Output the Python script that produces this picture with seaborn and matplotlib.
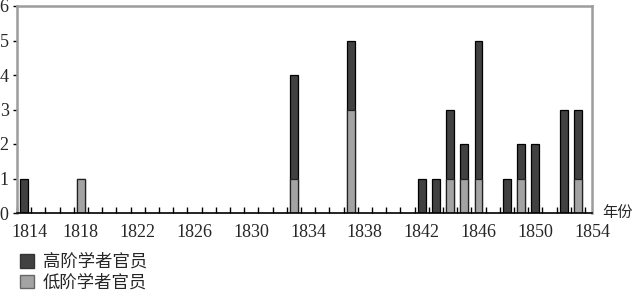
import matplotlib
matplotlib.use("Agg")
import matplotlib.pyplot as plt
import matplotlib.transforms as mtransforms
import seaborn as sns
import pandas as pd
from matplotlib.patches import Patch
from matplotlib.ticker import MultipleLocator

# ---- data ----
years = [1814, 1818, 1833, 1837, 1842, 1843, 1844, 1845, 1846, 1848, 1849, 1850, 1852, 1853]
high = [1, 0, 3, 2, 1, 1, 2, 1, 4, 1, 1, 2, 3, 2]   # 高阶学者官员 (dark, top)
low = [0, 1, 1, 3, 0, 0, 1, 1, 1, 0, 1, 0, 0, 1]    # 低阶学者官员 (light, bottom)
series_names = ["高阶学者官员", "低阶学者官员"]
x_tick_years = [1814, 1818, 1822, 1826, 1830, 1834, 1838, 1842, 1846, 1850, 1854]
y_ticks = [0, 1, 2, 3, 4, 5, 6]
x_axis_label = "年份"

dark = "#414141"
light = "#a3a3a3"
SERIF = ['Liberation Serif', 'DejaVu Serif']
CJK = ['Noto Sans CJK SC', 'DejaVu Sans']

sns.set_theme(style="white")
plt.rcParams['font.family'] = ['Liberation Serif', 'Noto Sans CJK SC', 'DejaVu Sans']

df = pd.DataFrame({"year": years, "high": high, "low": low})
df["total"] = df["high"] + df["low"]
df_low = df[df["low"] > 0]

fig = plt.figure(figsize=(6.35, 2.91), dpi=100)
W, H = 635, 291
ax = fig.add_axes([17 / W, 1 - 213 / H, (592 - 17) / W, (213 - 6) / H])

# stacked bars: total drawn dark, lower part overlaid in light grey
sns.barplot(data=df, x="year", y="total", native_scale=True, orient="x",
            width=0.55, color=dark, saturation=1, edgecolor="black",
            linewidth=0.9, errorbar=None, ax=ax)
sns.barplot(data=df_low, x="year", y="low", native_scale=True, orient="x",
            width=0.55, color=light, saturation=1, edgecolor="#222222",
            linewidth=0.9, errorbar=None, ax=ax)

ax.set_xlim(1813.5, 1854.0)
ax.set_ylim(0, 6)
ax.set_xlabel("")
ax.set_ylabel("")

ax.set_xticks(x_tick_years)
ax.set_xticklabels([str(y) for y in x_tick_years], fontfamily=SERIF, fontsize=13)
ax.xaxis.set_minor_locator(MultipleLocator(1, offset=0.5))
ax.tick_params(axis="x", which="major", length=0, pad=8, bottom=True)
ax.tick_params(axis="x", which="minor", length=4, width=1, direction="in",
               color="black", bottom=True)
ax.set_yticks(y_ticks)
ax.set_yticklabels([str(v) for v in y_ticks], fontfamily=SERIF, fontsize=13)
ax.tick_params(axis="y", which="major", length=3, width=1, direction="out",
               color="black", pad=3, left=True)

# the first year label sits a little to the right in the reference
first = ax.get_xticklabels()[0]
first.set_transform(first.get_transform() +
                    mtransforms.ScaledTranslation(5 / 100, 0, fig.dpi_scale_trans))

for side in ["left", "top", "right"]:
    ax.spines[side].set_color("#9c9c9c")
    ax.spines[side].set_linewidth(1.8)
ax.spines["bottom"].set_color("black")
ax.spines["bottom"].set_linewidth(1.2)
ax.grid(False)

fig.text(602 / W, 1 - 212 / H, x_axis_label, fontsize=11, va="center", ha="left",
         family=CJK)

handles = [Patch(facecolor=dark, edgecolor="#333333", label=series_names[0]),
           Patch(facecolor=light, edgecolor="#666666", label=series_names[1])]
fig.legend(handles=handles, loc="upper left", bbox_to_anchor=(20 / W, 1 - 253 / H),
           frameon=False, handlelength=0.8, handleheight=0.8,
           handletextpad=0.5, labelspacing=0.15, borderaxespad=0, borderpad=0,
           prop={'family': CJK, 'size': 12.5})

fig.savefig("out.png", dpi=100)
